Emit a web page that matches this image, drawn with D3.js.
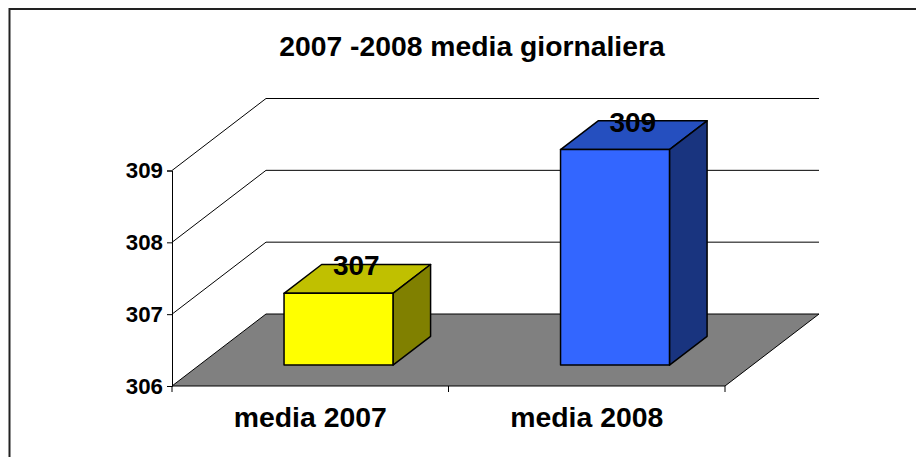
<!DOCTYPE html>
<html lang="en">
<head>
    <meta charset="UTF-8" />
    <title>2007 -2008 media giornaliera</title>
    <script src="https://d3js.org/d3.v7.min.js"></script>
    <style>
        body {
            margin: 0;
            background: #fff;
            overflow: hidden;
        }

        text {
            font-family: "Liberation Sans", Arial, sans-serif;
            font-weight: bold;
            fill: #000;
        }
    </style>
</head>
<body>
    <script>
        // data
        const categories = ['media 2007', 'media 2008'];
        const values = [307, 309];
        const yTicks = [306, 307, 308, 309];
        const frontColors = ['#ffff00', '#3366ff'];
        const topColors = ['#c0c000', '#254fbf'];
        const sideColors = ['#808000', '#19347f'];

        const width = 916;
        const height = 457;

        // 3d offset between the front and back of the chart box
        const depthX = 94;
        const depthY = -72;
        // the bars sit between these fractions of the depth
        const barFront = 0.29;
        const barBack = 0.69;

        const x = d3.scaleBand().domain(categories).range([172, 725]);
        const y = d3.scaleLinear().domain([306, 309]).range([386, 170.5]);
        const barWidth = x.bandwidth() * 0.394;

        const svg = d3.select('body').append('svg').attr('width', width).attr('height', height);

        // outer frame, open on the right and bottom
        svg.append('path')
            .attr('d', `M9.5,${height}V9H${width}`)
            .attr('fill', 'none')
            .attr('stroke', '#222')
            .attr('stroke-width', 2);

        svg.append('text')
            .attr('x', 472)
            .attr('y', 56)
            .attr('text-anchor', 'middle')
            .style('font-size', '28.3px')
            .text('2007 -2008 media giornaliera');

        // floor
        const floor = [
            [x.range()[0], y(306)],
            [x.range()[1], y(306)],
            [x.range()[1] + depthX, y(306) + depthY],
            [x.range()[0] + depthX, y(306) + depthY],
        ];
        svg.append('polygon')
            .attr('points', floor.join(' '))
            .attr('fill', '#808080')
            .attr('stroke', '#000')
            .attr('stroke-width', 1);

        // gridlines, on the side wall and the back wall
        const grid = svg.append('g').attr('fill', 'none').attr('stroke', '#000').attr('stroke-width', 1);
        grid.selectAll('path')
            .data(yTicks.slice(1))
            .join('path')
            .attr('d', (d) => {
                const x0 = x.range()[0];
                const x1 = x.range()[1];
                return `M${x0},${y(d)}L${x0 + depthX},${y(d) + depthY}H${x1 + depthX}`;
            });

        // axes
        const yAxis = d3.axisLeft(y).tickValues(yTicks).tickFormat(d3.format('d')).tickSize(5).tickPadding(4);
        const yGroup = svg.append('g').attr('transform', `translate(${x.range()[0]},0)`).call(yAxis);
        yGroup.selectAll('text').style('font-size', '22.3px').attr('fill', '#000');

        const xAxis = d3.axisBottom(x).tickSize(0).tickPadding(21);
        const xGroup = svg.append('g').attr('transform', `translate(0,${y(306)})`).call(xAxis);
        xGroup.selectAll('text').style('font-size', '28.4px').attr('fill', '#000');
        xGroup.select('.domain').remove();

        // x ticks sit between the categories
        svg.append('g')
            .selectAll('line')
            .data([x.range()[0], x.range()[0] + x.step(), x.range()[1]])
            .join('line')
            .attr('x1', (d) => d)
            .attr('x2', (d) => d)
            .attr('y1', y(306))
            .attr('y2', y(306) + 6)
            .attr('stroke', '#000');

        // bars
        const bars = svg.append('g')
            .selectAll('g')
            .data(categories.map((c, i) => ({ c, v: values[i], i })))
            .join('g')
            .attr('stroke', '#000')
            .attr('stroke-width', 1.5)
            .attr('stroke-linejoin', 'round');

        const barLeft = (d) => x(d.c) + (x.bandwidth() - barWidth) / 2 + barFront * depthX + 1;
        const barBase = y(306) + barFront * depthY;
        const barTop = (d) => y(d.v) + barFront * depthY;
        const dx = (barBack - barFront) * depthX;
        const dy = (barBack - barFront) * depthY;

        bars.append('polygon')
            .attr('fill', (d) => topColors[d.i])
            .attr('points', (d) => [
                [barLeft(d), barTop(d)],
                [barLeft(d) + barWidth, barTop(d)],
                [barLeft(d) + barWidth + dx, barTop(d) + dy],
                [barLeft(d) + dx, barTop(d) + dy],
            ].join(' '));

        bars.append('polygon')
            .attr('fill', (d) => sideColors[d.i])
            .attr('points', (d) => [
                [barLeft(d) + barWidth, barTop(d)],
                [barLeft(d) + barWidth + dx, barTop(d) + dy],
                [barLeft(d) + barWidth + dx, barBase + dy],
                [barLeft(d) + barWidth, barBase],
            ].join(' '));

        bars.append('rect')
            .attr('fill', (d) => frontColors[d.i])
            .attr('x', barLeft)
            .attr('y', barTop)
            .attr('width', barWidth)
            .attr('height', (d) => barBase - barTop(d));

        // value labels
        svg.append('g')
            .selectAll('text')
            .data(categories.map((c, i) => ({ c, v: values[i] })))
            .join('text')
            .attr('x', (d) => barLeft(d) + barWidth / 2 + dx / 2 - 1)
            .attr('y', (d) => barTop(d) + dy + 11)
            .attr('text-anchor', 'middle')
            .style('font-size', '28px')
            .text((d) => d.v);
    </script>
</body>
</html>
